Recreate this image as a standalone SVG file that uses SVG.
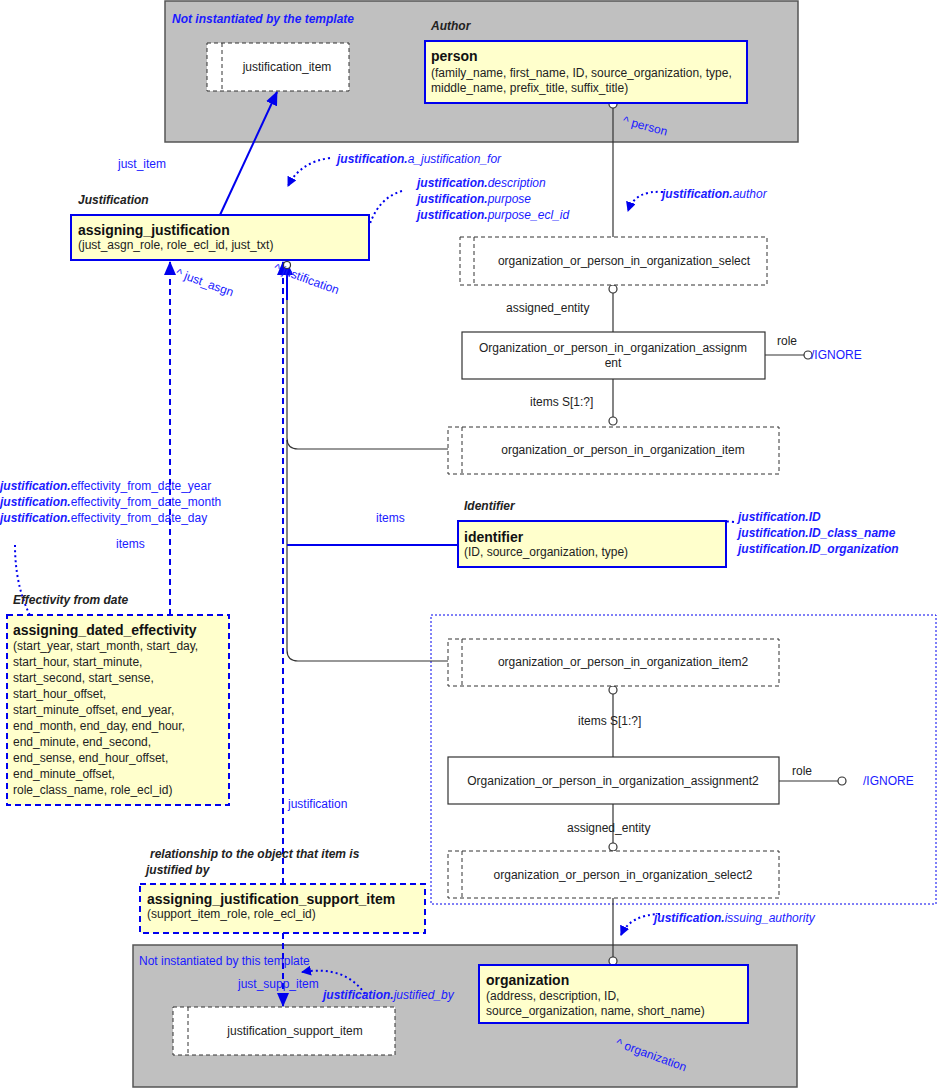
<svg xmlns="http://www.w3.org/2000/svg" width="937" height="1089" viewBox="0 0 937 1089">
<style>
text{font-family:"Liberation Sans",Arial,sans-serif;font-size:12px;fill:#222}
.b{fill:#1a1aff}
.bi{font-weight:bold;font-style:italic}
.it{font-style:italic}
.t{font-weight:bold;font-size:14px;fill:#111}
.gray{fill:#c0c0c0;stroke:#555;stroke-width:1.5}
.ent{fill:#ffffcc;stroke:#0000ee;stroke-width:2}
.entd{fill:#ffffcc;stroke:#0000ee;stroke-width:2;stroke-dasharray:6,4}
.sel{fill:#fff;stroke:#333;stroke-width:1;stroke-dasharray:4,3}
.box{fill:#fff;stroke:#333;stroke-width:1.2}
.ln{stroke:#333;stroke-width:1.2;fill:none}
.bl{stroke:#0000ee;stroke-width:2;fill:none}
.bd{stroke:#0000ee;stroke-width:2;fill:none;stroke-dasharray:6,4}
.bdot{stroke:#0000ee;stroke-width:2;fill:none;stroke-dasharray:2,3}
.c{fill:#fff;stroke:#333;stroke-width:1.2}
</style>
<defs>
<marker id="ar" markerWidth="10" markerHeight="10" refX="9" refY="5" orient="auto" markerUnits="userSpaceOnUse"><path d="M0,0 L10,5 L0,10 z" fill="#0000ee"/></marker>
<marker id="ar2" markerWidth="14" markerHeight="12" refX="13" refY="6" orient="auto" markerUnits="userSpaceOnUse"><path d="M0,0 L14,6 L0,12 z" fill="#0000ee"/></marker>
</defs>

<g id="region-top"><rect class="gray" x="165" y="1" width="633" height="141"/>
<text x="172" y="23" class="b bi">Not instantiated by the template</text></g>
<g id="region-bottom"><rect class="gray" x="133" y="945" width="664" height="142"/>
<text x="139" y="965" class="b">Not instantiated by this template</text></g>
<g id="region-dotted"><rect x="431" y="615" width="505" height="289" fill="none" stroke="#0000ee" stroke-dasharray="2,2"/></g>

<g id="connectors">
<line class="bl" x1="220" y1="215" x2="277" y2="92" marker-end="url(#ar2)"/>
<line class="ln" x1="613" y1="108" x2="613" y2="237"/>
<line class="ln" x1="613" y1="293" x2="613" y2="332"/>
<line class="ln" x1="765" y1="355" x2="804" y2="355"/>
<line class="ln" x1="613" y1="379" x2="613" y2="417"/>
<path class="ln" d="M448,449 H298 Q287,449 287,438 V262"/>
<path class="ln" d="M448,661 H298 Q287,661 287,650 V440"/>
<line class="bl" x1="287" y1="545" x2="458" y2="545"/>
<line class="bl" x1="287" y1="300" x2="287" y2="262" marker-end="url(#ar2)"/>
<line class="bd" x1="170" y1="615" x2="170" y2="262" marker-end="url(#ar2)"/>
<line class="bd" x1="283" y1="884" x2="283" y2="262" marker-end="url(#ar2)"/>
<line class="bd" x1="283" y1="933" x2="283" y2="1006" marker-end="url(#ar2)"/>
<line class="ln" x1="613" y1="686" x2="613" y2="757"/>
<line class="ln" x1="779" y1="781" x2="838" y2="781"/>
<line class="ln" x1="613" y1="804" x2="613" y2="843"/>
<line class="ln" x1="613" y1="898" x2="613" y2="957"/>
<circle class="c" cx="613" cy="104" r="4"/>
<circle class="c" cx="613" cy="289" r="4"/>
<circle class="c" cx="808" cy="355" r="4"/>
<circle class="c" cx="613" cy="421" r="4"/>
<circle class="c" cx="287" cy="265" r="3.5"/>
<circle class="c" cx="613" cy="690" r="4"/>
<circle class="c" cx="842" cy="781" r="4"/>
<circle class="c" cx="613" cy="847" r="4"/>
<circle class="c" cx="613" cy="961" r="4"/>
<path class="bdot" d="M330,158 Q300,162 288,186" marker-end="url(#ar)"/>
<path class="bdot" d="M402,191 Q370,200 364,250" marker-end="url(#ar)"/>
<path class="bdot" d="M663,192 Q635,190 628,211" marker-end="url(#ar)"/>
<path class="bdot" d="M734,522 Q700,518 680,543" marker-end="url(#ar)"/>
<path class="bdot" d="M15,545 Q15,600 43,636" marker-end="url(#ar)"/>
<path class="bdot" d="M660,914 Q630,915 621,935" marker-end="url(#ar)"/>
<path class="bdot" d="M365,994 Q345,965 302,972" marker-end="url(#ar)"/>
<text x="118" y="168" class="b">just_item</text>
<text x="337" y="163" class="b"><tspan class="bi">justification.</tspan><tspan class="it">a_justification_for</tspan></text>
<text x="417" y="187" class="b"><tspan class="bi">justification.</tspan><tspan class="it">description</tspan></text>
<text x="417" y="203" class="b"><tspan class="bi">justification.</tspan><tspan class="it">purpose</tspan></text>
<text x="417" y="219" class="b"><tspan class="bi">justification.</tspan><tspan class="it">purpose_ecl_id</tspan></text>
<text x="662" y="198" class="b"><tspan class="bi">justification.</tspan><tspan class="it">author</tspan></text>
<text x="0" y="0" class="b" transform="translate(622,124) rotate(15)">^ person</text>
<text x="0" y="0" class="b" transform="translate(175,276) rotate(20)">^ just_asgn</text>
<text x="0" y="0" class="b" transform="translate(273,271) rotate(20)">^ justification</text>
<text x="506" y="312">assigned_entity</text>
<text x="777" y="345">role</text>
<text x="811" y="359" class="b">/IGNORE</text>
<text x="530" y="406">items S[1:?]</text>
<text x="376" y="522" class="b">items</text>
<text x="738" y="521" class="b bi">justification.ID</text>
<text x="738" y="537" class="b bi">justification.ID_class_name</text>
<text x="738" y="553" class="b bi">justification.ID_organization</text>
<text x="0" y="490" class="b"><tspan class="bi">justification.</tspan>effectivity_from_date_year</text>
<text x="0" y="506" class="b"><tspan class="bi">justification.</tspan>effectivity_from_date_month</text>
<text x="0" y="522" class="b"><tspan class="bi">justification.</tspan>effectivity_from_date_day</text>
<text x="116" y="548" class="b">items</text>
<text x="578" y="725">items S[1:?]</text>
<text x="792" y="775">role</text>
<text x="863" y="785" class="b">/IGNORE</text>
<text x="567" y="832">assigned_entity</text>
<text x="288" y="808" class="b">justification</text>
<text x="654" y="922" class="b"><tspan class="bi">justification.</tspan><tspan class="it">issuing_authority</tspan></text>
<text x="238" y="988" class="b">just_supp_item</text>
<text x="323" y="999" class="b"><tspan class="bi">justification.</tspan><tspan class="it">justified_by</tspan></text>
<text x="0" y="0" class="b" transform="translate(615,1046) rotate(20)">^ organization</text>
</g>

<g id="justification_item"><rect class="sel" x="207" y="43" width="142" height="48"/><line class="sel" x1="222" y1="43" x2="222" y2="91"/><text x="287" y="71" text-anchor="middle">justification_item</text></g>
<g id="person"><text x="431" y="30" class="bi">Author</text><rect class="ent" x="425" y="41" width="322" height="62"/><text x="431" y="61" class="t">person</text><text x="431" y="77">(family_name, first_name, ID, source_organization, type,</text><text x="431" y="92">middle_name, prefix_title, suffix_title)</text></g>
<g id="assigning_justification"><text x="78" y="204" class="bi">Justification</text><rect class="ent" x="71" y="215" width="298" height="45"/><text x="78" y="235" class="t">assigning_justification</text><text x="78" y="249">(just_asgn_role, role_ecl_id, just_txt)</text></g>
<g id="select"><rect class="sel" x="460" y="237" width="307" height="48"/><line class="sel" x1="474" y1="237" x2="474" y2="285"/><text x="624" y="265" text-anchor="middle">organization_or_person_in_organization_select</text></g>
<g id="assignment"><rect class="box" x="462" y="332" width="303" height="47"/><text x="613" y="352" text-anchor="middle">Organization_or_person_in_organization_assignm</text><text x="613" y="367" text-anchor="middle">ent</text></g>
<g id="item"><rect class="sel" x="448" y="427" width="331" height="47"/><line class="sel" x1="462" y1="427" x2="462" y2="474"/><text x="623" y="454" text-anchor="middle">organization_or_person_in_organization_item</text></g>
<g id="identifier"><text x="464" y="510" class="bi">Identifier</text><rect class="ent" x="458" y="521" width="268" height="46"/><text x="464" y="542" class="t">identifier</text><text x="464" y="556">(ID, source_organization, type)</text></g>
<g id="assigning_dated_effectivity"><text x="13" y="604" class="bi">Effectivity from date</text><rect class="entd" x="7" y="615" width="222" height="190"/><text x="13" y="635" class="t">assigning_dated_effectivity</text>
<text x="13" y="650">(start_year, start_month, start_day,</text><text x="13" y="666">start_hour, start_minute,</text><text x="13" y="682">start_second, start_sense,</text><text x="13" y="698">start_hour_offset,</text><text x="13" y="714">start_minute_offset, end_year,</text><text x="13" y="730">end_month, end_day, end_hour,</text><text x="13" y="746">end_minute, end_second,</text><text x="13" y="762">end_sense, end_hour_offset,</text><text x="13" y="778">end_minute_offset,</text><text x="13" y="794">role_class_name, role_ecl_id)</text></g>
<g id="item2"><rect class="sel" x="448" y="639" width="331" height="47"/><line class="sel" x1="462" y1="639" x2="462" y2="686"/><text x="623" y="666" text-anchor="middle">organization_or_person_in_organization_item2</text></g>
<g id="assignment2"><rect class="box" x="448" y="757" width="331" height="47"/><text x="613" y="785" text-anchor="middle">Organization_or_person_in_organization_assignment2</text></g>
<g id="select2"><rect class="sel" x="448" y="851" width="331" height="47"/><line class="sel" x1="462" y1="851" x2="462" y2="898"/><text x="623" y="879" text-anchor="middle">organization_or_person_in_organization_select2</text></g>
<g id="assigning_justification_support_item"><text x="150" y="858" class="bi">relationship to the object that item is</text><text x="146" y="874" class="bi">justified by</text><rect class="entd" x="140" y="884" width="285" height="49"/><text x="147" y="904" class="t">assigning_justification_support_item</text><text x="147" y="918">(support_item_role, role_ecl_id)</text></g>
<g id="justification_support_item"><rect class="sel" x="173" y="1007" width="222" height="48"/><line class="sel" x1="188" y1="1007" x2="188" y2="1055"/><text x="295" y="1035" text-anchor="middle">justification_support_item</text></g>
<g id="organization"><rect class="ent" x="479" y="965" width="269" height="58"/><text x="486" y="985" class="t">organization</text><text x="486" y="1000">(address, description, ID,</text><text x="486" y="1015">source_organization, name, short_name)</text></g>
</svg>
